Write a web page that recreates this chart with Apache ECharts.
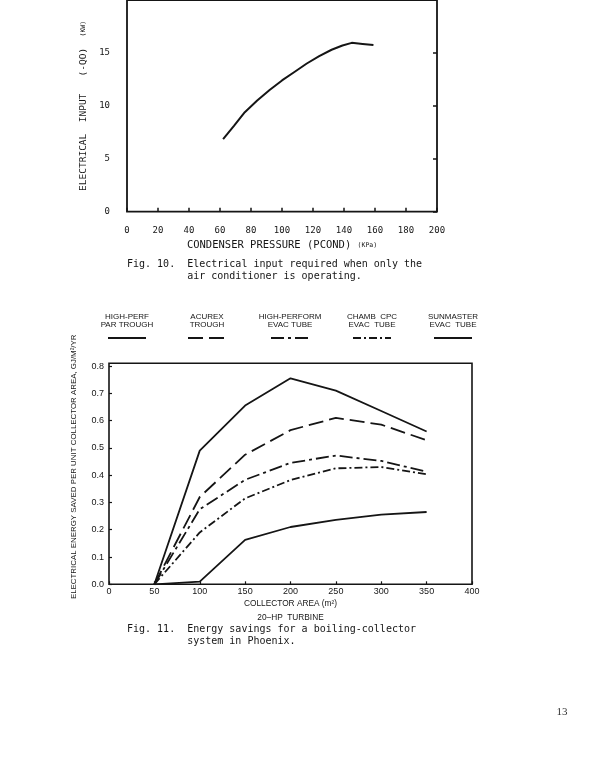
<!DOCTYPE html>
<html>
<head>
<meta charset="utf-8">
<script src="https://cdn.jsdelivr.net/npm/echarts@6/dist/echarts.min.js"></script>
<style>
html,body{margin:0;padding:0;background:#fff;}
#c{width:612px;height:781px;}
</style>
</head>
<body>
<div id="c"></div>
<script>
// ---- Fig. 10 data ----
const fig10Pressure = [62, 69, 76, 84, 92, 100, 108, 116, 124, 132, 139, 145, 152, 159];
const fig10Input    = [6.85, 8.1, 9.4, 10.5, 11.5, 12.4, 13.2, 14.0, 14.7, 15.3, 15.7, 15.95, 15.85, 15.75];
const fig10XTicks = [0, 20, 40, 60, 80, 100, 120, 140, 160, 180, 200];
const fig10YTicks = [0, 5, 10, 15];

// ---- Fig. 11 data ----
const fig11Area = [50, 100, 150, 200, 250, 300, 350];
const fig11Names = ['HIGH-PERF\nPAR TROUGH', 'ACUREX\nTROUGH', 'HIGH-PERFORM\nEVAC TUBE', 'CHAMB  CPC\nEVAC  TUBE', 'SUNMASTER\nEVAC  TUBE'];
const parTrough = [0, 0.49, 0.655, 0.755, 0.71, 0.635, 0.56];
const acurexTrough = [0, 0.32, 0.475, 0.565, 0.61, 0.585, 0.528];
const hpEvacTube = [0, 0.275, 0.383, 0.445, 0.472, 0.452, 0.413];
const chambCpcTube = [0, 0.19, 0.315, 0.382, 0.425, 0.43, 0.403];
const sunmasterTube = [0, 0.01, 0.163, 0.21, 0.236, 0.255, 0.265];
const fig11YTicks = [0, 0.1, 0.2, 0.3, 0.4, 0.5, 0.6, 0.7, 0.8];

// ---- styles / layout (not data) ----
const INK = '#151515';
const dashes = ['solid', [15, 6], [13, 4, 3, 4], [8, 3, 2, 3], 'solid'];
const legendCx = [127, 207, 290, 372, 453];
const fig11Series = [parTrough, acurexTrough, hpEvacTube, chambCpcTube, sunmasterTube];

const chart = echarts.init(document.getElementById('c'), null, {renderer: 'canvas'});

const series = [{
  type: 'line', xAxisIndex: 0, yAxisIndex: 0, symbol: 'none', smooth: false,
  lineStyle: {color: INK, width: 2},
  data: fig10Pressure.map((p, i) => [p, fig10Input[i]])
}];
fig11Series.forEach((vals, k) => {
  series.push({
    name: fig11Names[k], type: 'line', xAxisIndex: 1, yAxisIndex: 2, symbol: 'none',
    lineStyle: {color: INK, width: 1.8, type: dashes[k]},
    data: fig11Area.map((a, i) => [a, vals[i]])
  });
});

const graphic = [];
fig11Names.forEach((n, k) => {
  graphic.push({
    type: 'text', x: legendCx[k], y: 321,
    style: {text: n, font: '8px "Liberation Sans"', fill: INK, align: 'center', verticalAlign: 'middle', lineHeight: 8}
  });
  graphic.push({
    type: 'line', shape: {x1: legendCx[k] - 19, y1: 338, x2: legendCx[k] + 19, y2: 338},
    style: {stroke: INK, lineWidth: 1.8, lineDash: dashes[k] === 'solid' ? null : dashes[k]}
  });
});
graphic.push({
  type: 'text', x: 127, y: 270,
  style: {text: 'Fig. 10.  Electrical input required when only the\n          air conditioner is operating.',
    font: '10px "DejaVu Sans Mono"', fill: INK, verticalAlign: 'middle', lineHeight: 12}
});
graphic.push({
  type: 'text', x: 127, y: 635,
  style: {text: 'Fig. 11.  Energy savings for a boiling-collector\n          system in Phoenix.',
    font: '10px "DejaVu Sans Mono"', fill: INK, verticalAlign: 'middle', lineHeight: 12}
});
graphic.push({
  type: 'text', x: 562, y: 712,
  style: {text: '13', font: '11px "Liberation Serif"', fill: '#333', align: 'center', verticalAlign: 'middle'}
});

const monoLab = {fontFamily: 'DejaVu Sans Mono', fontSize: 9, color: INK};
const sansLab = {fontFamily: 'Liberation Sans', fontSize: 9, color: INK};

chart.setOption({
  animation: false,
  backgroundColor: '#fff',
  grid: [
    {left: 127, right: 175, top: -10, bottom: 569.3, show: true, borderColor: INK, borderWidth: 1.8, backgroundColor: 'transparent'},
    {left: 109, right: 140, top: 363.3, bottom: 196.7, show: true, borderColor: INK, borderWidth: 1.6, backgroundColor: 'transparent'}
  ],
  xAxis: [
    {type: 'value', gridIndex: 0, min: 0, max: 200, interval: 20,
      axisLine: {show: false}, splitLine: {show: false},
      axisTick: {inside: true, length: 4, lineStyle: {color: INK, width: 1.5}},
      axisLabel: Object.assign({margin: 14, customValues: fig10XTicks}, monoLab),
      name: 'CONDENSER PRESSURE (PCOND) {s|(KPa)}', nameLocation: 'middle', nameGap: 28,
      nameTextStyle: {fontFamily: 'DejaVu Sans Mono', fontSize: 10.5, color: INK,
        rich: {s: {fontFamily: 'DejaVu Sans Mono', fontSize: 6.5, color: INK}}}
    },
    {type: 'value', gridIndex: 1, min: 0, max: 400, interval: 50,
      axisLine: {show: false}, splitLine: {show: false},
      axisTick: {inside: true, length: 3, lineStyle: {color: INK, width: 1.2}},
      axisLabel: Object.assign({margin: 3}, sansLab),
      name: 'COLLECTOR AREA (m²)\n20–HP  TURBINE', nameLocation: 'middle', nameGap: 7,
      nameTextStyle: {fontFamily: 'Liberation Sans', fontSize: 8.3, lineHeight: 14, color: INK}
    }
  ],
  yAxis: [
    {type: 'value', gridIndex: 0, min: 0, max: 20, interval: 5,
      axisLine: {show: false}, splitLine: {show: false},
      axisTick: {show: false},
      axisLabel: Object.assign({margin: 17, customValues: fig10YTicks}, monoLab),
      name: 'ELECTRICAL  INPUT   (-QO)  {s|(KW)}', nameLocation: 'middle', nameGap: 33,
      nameTextStyle: {fontFamily: 'DejaVu Sans Mono', fontSize: 9.5, color: INK,
        rich: {s: {fontFamily: 'DejaVu Sans Mono', fontSize: 6.5, color: INK}}}
    },
    {type: 'value', gridIndex: 0, position: 'right', min: 0, max: 20, interval: 5,
      axisLine: {show: false}, splitLine: {show: false},
      axisTick: {inside: true, length: 4, lineStyle: {color: INK, width: 1.5}},
      axisLabel: {show: false}
    },
    {type: 'value', gridIndex: 1, min: 0, max: 0.81,
      axisLine: {show: false}, splitLine: {show: false},
      axisTick: {inside: true, length: 3, customValues: fig11YTicks, lineStyle: {color: INK, width: 1.2}},
      axisLabel: Object.assign({margin: 5, customValues: fig11YTicks, formatter: v => v.toFixed(1)}, sansLab),
      name: 'ELECTRICAL ENERGY SAVED PER UNIT COLLECTOR AREA, GJ/M²/YR', nameLocation: 'middle', nameGap: 31,
      nameTextStyle: {fontFamily: 'Liberation Sans', fontSize: 7.9, color: INK, padding: [0, 0, 0, 14]}
    }
  ],
  series: series,
  graphic: graphic
});
</script>
</body>
</html>
